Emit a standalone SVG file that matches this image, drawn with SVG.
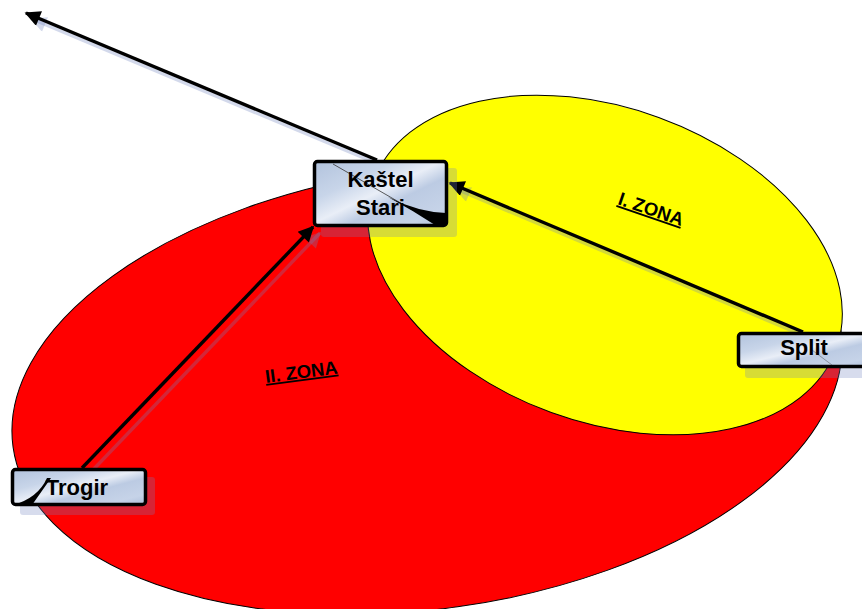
<svg xmlns="http://www.w3.org/2000/svg" width="862" height="609" viewBox="0 0 862 609">
  <defs>
    <linearGradient id="metal" x1="0" y1="0" x2="1" y2="1">
      <stop offset="0" stop-color="#b2c3dd"/>
      <stop offset="0.3" stop-color="#c8d5e9"/>
      <stop offset="0.48" stop-color="#e9eef7"/>
      <stop offset="0.62" stop-color="#bccbe3"/>
      <stop offset="0.85" stop-color="#c6d3e8"/>
      <stop offset="1" stop-color="#aebfda"/>
    </linearGradient>
    <marker id="arrow" viewBox="0 0 10 10" refX="9" refY="5" markerWidth="5.6" markerHeight="4.6" orient="auto">
      <path d="M0,0 L10,5 L0,10 Z" fill="#000"/>
    </marker>
    <marker id="arrow-shadow" viewBox="0 0 10 10" refX="9" refY="5" markerWidth="5.6" markerHeight="4.6" orient="auto">
      <path d="M0,0 L10,5 L0,10 Z" fill="rgb(110,130,190)" fill-opacity="0.3"/>
    </marker>
  </defs>
  <style>
    .zone { stroke: #000; stroke-width: 1; }
    .label { font-family: "Liberation Sans", Arial, sans-serif; font-weight: bold; font-size: 18.5px; fill: #000; text-decoration: underline; }
    .box { fill: url(#metal); stroke: #000; stroke-width: 3.5; }
    .box-shadow { fill: rgb(110,130,190); fill-opacity: 0.28; }
    .name { font-family: "Liberation Sans", Arial, sans-serif; font-weight: bold; font-size: 22px; fill: #000; text-anchor: middle; }
    .conn { fill: none; stroke: #000; stroke-width: 3.4; marker-end: url(#arrow); }
    .conn-shadow { fill: none; stroke: rgb(110,130,190); stroke-opacity: 0.3; stroke-width: 3.4; marker-end: url(#arrow-shadow); }
    .streak { fill: #000; }
    .thin { stroke: #333; stroke-width: 0.8; fill: none; }
  </style>

  <g id="zone-2">
    <ellipse class="zone" cx="427" cy="389" rx="418" ry="220" transform="rotate(-8 427 389)" fill="#ff0000"/>
    <text class="label" x="266" y="383" transform="rotate(-7.5 266 383)">II. ZONA</text>
  </g>
  <g id="zone-1">
    <ellipse class="zone" cx="605" cy="265" rx="246" ry="157" transform="rotate(20 605 265)" fill="#ffff00"/>
    <text class="label" x="617" y="204" transform="rotate(19 617 204)">I. ZONA</text>
  </g>

  <g id="connectors">
    <line class="conn-shadow" x1="383" y1="166" x2="32" y2="19"/>
    <line class="conn-shadow" x1="809" y1="338" x2="456" y2="189"/>
    <line class="conn-shadow" x1="89" y1="474" x2="320" y2="233"/>
    <line class="conn" x1="377" y1="160" x2="26" y2="13"/>
    <line class="conn" x1="803" y1="332" x2="450" y2="183"/>
    <line class="conn" x1="82" y1="468" x2="313" y2="227"/>
  </g>

  <g id="node-kastel-stari">
    <rect class="box-shadow" x="321" y="168" width="136" height="69" rx="3"/>
    <rect class="box" x="314.5" y="161.5" width="132" height="64" rx="3"/>
    <path class="thin" d="M333 164 L437 224"/>
    <path class="streak" d="M388 197 Q418 212 446 213 L446 225 L435 225 Q412 210 388 197 Z"/>
    <text class="name" x="380.5" y="187">Kaštel</text>
    <text class="name" x="380.5" y="215">Stari</text>
  </g>

  <g id="node-split">
    <rect class="box-shadow" x="745" y="341" width="140" height="37" rx="3"/>
    <rect class="box" x="738.5" y="333.5" width="134" height="33" rx="3"/>
    <path class="thin" d="M812 350 L832 365" stroke-opacity="0.5"/>
    <text class="name" x="804" y="355">Split</text>
  </g>

  <g id="node-trogir">
    <rect class="box-shadow" x="20" y="477" width="135" height="38" rx="3"/>
    <rect class="box" x="12.5" y="469.5" width="133" height="35" rx="3"/>
    <path class="streak" d="M13 505 Q38 498 47 478 L51 478 L32 505 Z"/>
    <text class="name" x="77" y="495">Trogir</text>
  </g>
</svg>
